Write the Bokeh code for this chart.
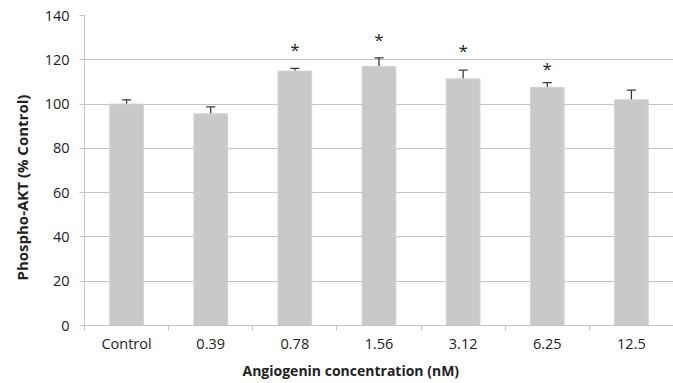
import numpy as np
from bokeh.plotting import figure
from bokeh.models import (ColumnDataSource, Range1d, FixedTicker, Whisker, TeeHead, Title)
from bokeh.core.properties import value
from bokeh.embed import file_html
from bokeh.resources import INLINE

# ---- data ----
categories = ["Control", "0.39", "0.78", "1.56", "3.12", "6.25", "12.5"]
means = [100.0, 95.6, 114.9, 117.0, 111.4, 107.5, 101.9]
errors = [1.9, 3.1, 1.2, 3.9, 3.9, 2.2, 4.4]
significant = [False, False, True, True, True, True, False]
star_heights = [None, None, 124.5, 129.0, 124.0, 116.0, None]
y_ticks = [0, 20, 40, 60, 80, 100, 120, 140]

FONT = "Open Sans"
TEXT_COLOR = "#222222"
GRID = "#c4c4c4"

n = len(categories)
xs = np.arange(n) + 0.5
lower = [m - e for m, e in zip(means, errors)]
upper = [m + e for m, e in zip(means, errors)]
src = ColumnDataSource(dict(x=xs, top=means, lower=lower, upper=upper))

p = figure(width=673, height=383, output_backend="svg", toolbar_location=None,
           x_range=Range1d(0, n), y_range=Range1d(0, 140),
           min_border_left=83, min_border_right=0, min_border_top=15, min_border_bottom=58)
p.outline_line_color = None
p.background_fill_color = "white"
p.border_fill_color = "white"

p.vbar(x="x", top="top", bottom=0, width=0.4, source=src,
       fill_color="#c9c9c9", line_color="#d2d2d2", line_width=1)

wh = Whisker(base="x", lower="lower", upper="upper", source=src,
             line_color="#3a3a3a", line_width=1.3,
             upper_head=TeeHead(size=9, line_color="#3a3a3a", line_width=1.3),
             lower_head=TeeHead(size=9, line_color="#3a3a3a", line_width=1.3))
p.add_layout(wh)

sx = [x for x, s in zip(xs, significant) if s]
sy = [h for h, s in zip(star_heights, significant) if s]
p.text(x=sx, y=sy, text=["*"] * len(sx), text_align="center", text_baseline="middle",
       text_font=value(FONT), text_font_size="17px", text_color=TEXT_COLOR)

# x axis: labels at centres, tick marks at category boundaries
xa = p.xaxis[0]
xa.ticker = FixedTicker(ticks=list(xs), minor_ticks=list(range(n + 1)))
xa.major_label_overrides = {float(x): c for x, c in zip(xs, categories)}
xa.major_tick_out = 0
xa.major_tick_in = 0
xa.minor_tick_out = 5
xa.minor_tick_in = 0
xa.minor_tick_line_color = GRID
xa.axis_line_color = GRID
xa.major_label_standoff = 3
xa.major_label_text_font = FONT
xa.major_label_text_font_size = "14.5px"
xa.major_label_text_color = TEXT_COLOR

ya = p.yaxis[0]
ya.ticker = FixedTicker(ticks=y_ticks)
ya.major_tick_out = 5
ya.major_tick_in = 0
ya.minor_tick_out = 0
ya.minor_tick_in = 0
ya.major_tick_line_color = GRID
ya.axis_line_color = GRID
ya.major_label_standoff = 10
ya.major_label_text_font = FONT
ya.major_label_text_font_size = "14.5px"
ya.major_label_text_color = TEXT_COLOR

p.xgrid.grid_line_color = None
p.ygrid.grid_line_color = GRID
p.ygrid.grid_line_width = 1

xt = Title(text="Angiogenin concentration (nM)", align="left", offset=158,
           text_font=FONT, text_font_size="14px", text_font_style="bold",
           text_color=TEXT_COLOR, standoff=7)
p.add_layout(xt, "below")
yt = Title(text="Phospho-AKT (% Control)", align="left", offset=45,
           text_font=FONT, text_font_size="15px", text_font_style="bold",
           text_color=TEXT_COLOR, standoff=19)
p.add_layout(yt, "left")

open("out.html", "w").write(file_html(p, INLINE))
